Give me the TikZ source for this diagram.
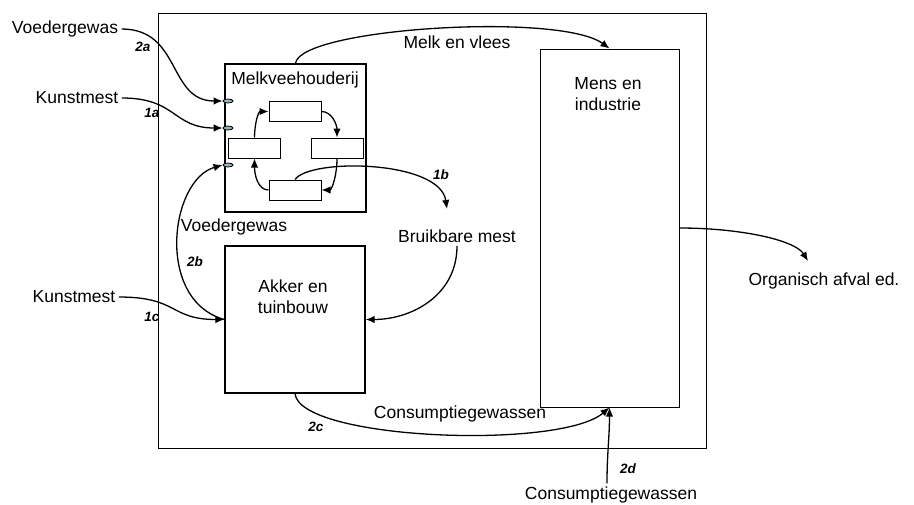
\documentclass[tikz,border=0pt]{standalone}
\usepackage{fontspec}
\setmainfont{Liberation Sans}
\usetikzlibrary{arrows.meta,shapes.geometric,positioning}
\definecolor{portblue}{RGB}{150,178,188}
\tikzset{
  flow/.style={-{Latex[length=9pt,width=7.5pt]},line width=1.3pt},
  port/.style={ellipse,draw,line width=0.8pt,fill=portblue,minimum width=10pt,minimum height=4pt,inner sep=0pt},
  tag/.style={font=\fontsize{13.5}{16}\selectfont\bfseries\itshape},
  cyclebox/.style={rectangle,draw,line width=1pt,minimum width=52pt,minimum height=20pt,inner sep=0pt},
}

\begin{document}
\begin{tikzpicture}[x=1pt,y=-1pt,font=\fontsize{17.5}{21}\selectfont]
\useasboundingbox (0,0) rectangle (914,504);

% Systems
\node[rectangle,draw,line width=1pt,minimum width=548pt,minimum height=435pt,inner sep=0pt] (frame) at (432,230.5) {};
\node[rectangle,draw,line width=1.4pt,minimum width=141pt,minimum height=148pt,inner sep=0pt] (melk) at (295.5,138) {};
\node (melklabel) at (295,80) {Melkveehouderij};
\node[rectangle,draw,line width=1.4pt,minimum width=140pt,minimum height=147pt,inner sep=0pt] (akker) at (295,319.5) {};
\node[align=center] (akkerlabel) at (293,297) {Akker en\\tuinbouw};
\node[rectangle,draw,line width=1pt,minimum width=139pt,minimum height=358pt,inner sep=0pt] (mens) at (609.5,228) {};
\node[align=center] (menslabel) at (608,94) {Mens en\\industrie};

% Cycle inside the dairy farm
\node[cyclebox] (ctop) at (295,111.5) {};
\node[cyclebox] (cleft) at (254.5,148) {};
\node[cyclebox] (cright) at (337,148) {};
\node[cyclebox] (cbot) at (295,190) {};
\draw[flow] (ctop.east) .. controls (332,111.5) and (337,125) .. (cright.north);
\draw[flow] (cright.south) .. controls (337,175) and (332,190) .. (cbot.east);
\draw[flow] (cbot.west) .. controls (258,190) and (254.5,175) .. (cleft.south);
\draw[flow] (cleft.north) .. controls (254.5,125) and (258,111.5) .. (ctop.west);

% Inlets
\node[port] (port1) at (228,101) {};
\node[port] (port2) at (228,128) {};
\node[port] (port3) at (228,165) {};

% Labels
\node (voeder1) at (65,29) {Voedergewas};
\node (kunst1) at (77,98) {Kunstmest};
\node (voeder2) at (234,227) {Voedergewas};
\node (kunst2) at (74,297) {Kunstmest};
\node (mest) at (457,236) {Bruikbare mest};
\node (melkvlees) at (457,42) {Melk en vlees};
\node (afval) at (824,281) {Organisch afval ed.};
\node (consum1) at (460,414) {Consumptiegewassen};
\node (consum2) at (611,495) {Consumptiegewassen};
\node[tag] (lbl2a) at (143,47) {2a};
\node[tag] (lbl1a) at (152,113) {1a};
\node[tag] (lbl2b) at (195,262) {2b};
\node[tag] (lbl1c) at (152,317) {1c};
\node[tag] (lbl1b) at (441,175) {1b};
\node[tag] (lbl2c) at (316,427) {2c};
\node[tag] (lbl2d) at (628,469) {2d};
\coordinate (mestin) at (447,209);
\coordinate (afvalin) at (808,261);

% Flows
\draw[flow] (voeder1.east) .. controls +(60,0) and +(-55,0) .. (port1.west);
\draw[flow] (kunst1.east) .. controls +(55,0) and +(-50,0) .. (port2.west);
\draw[flow] (akker.west) .. controls (155,300) and (170,180) .. (port3.west);
\draw[flow] (kunst2.east) .. controls +(60,0) and +(-55,0) .. (akker.west);
\draw[flow] (cbot.north) .. controls (310,158) and (440,160) .. (mestin);
\draw[flow] (mest.south) .. controls +(0,50) and +(45,0) .. (akker.east);
\draw[flow] (melk.north) .. controls (300,28) and (560,12) .. (mens.north);
\draw[flow] (mens.east) .. controls (740,228) and (795,240) .. (afvalin);
\draw[flow] (akker.south) .. controls (300,440) and (560,450) .. (mens.south);
\draw[flow] ([xshift=-4pt]consum2.north) .. controls +(0,-30) and +(0,30) .. (mens.south);

\end{tikzpicture}
\end{document}
